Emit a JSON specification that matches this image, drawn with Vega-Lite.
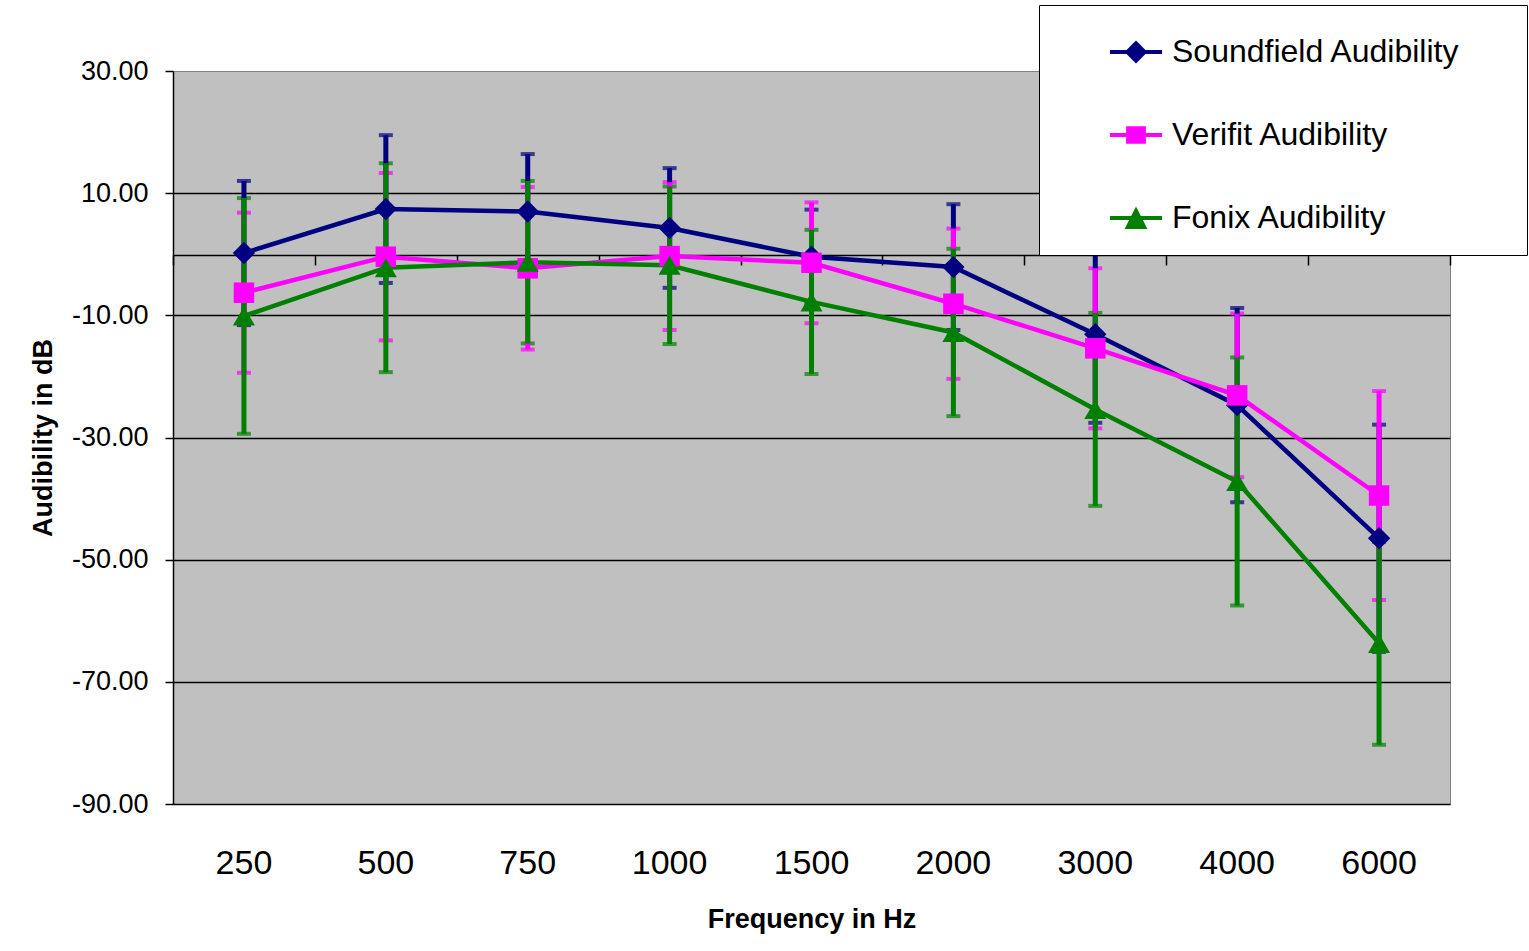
{
  "$schema": "https://vega.github.io/schema/vega-lite/v6.json",
  "width": 1277,
  "height": 733,
  "autosize": {"type": "none"},
  "padding": {"left": 173, "top": 71, "right": 79, "bottom": 147},
  "background": "white",
  "config": {
    "font": "Liberation Sans",
    "view": {"fill": "#C0C0C0", "stroke": "#808080", "strokeWidth": 1},
    "axis": {"labelColor": "black", "titleColor": "black", "labelFont": "Liberation Sans", "titleFont": "Liberation Sans"}
  },
  "data": {
    "values": [
      {"freq": "250", "series": "Soundfield Audibility", "mean": 0.2, "sd": 11.8},
      {"freq": "500", "series": "Soundfield Audibility", "mean": 7.4, "sd": 12.1},
      {"freq": "750", "series": "Soundfield Audibility", "mean": 7.0, "sd": 9.4},
      {"freq": "1000", "series": "Soundfield Audibility", "mean": 4.3, "sd": 9.8},
      {"freq": "1500", "series": "Soundfield Audibility", "mean": -0.4, "sd": 7.7},
      {"freq": "2000", "series": "Soundfield Audibility", "mean": -2.1, "sd": 10.3},
      {"freq": "3000", "series": "Soundfield Audibility", "mean": -13.1, "sd": 14.5},
      {"freq": "4000", "series": "Soundfield Audibility", "mean": -24.7, "sd": 15.9},
      {"freq": "6000", "series": "Soundfield Audibility", "mean": -46.5, "sd": 18.6},
      {"freq": "250", "series": "Verifit Audibility", "mean": -6.3, "sd": 13.1},
      {"freq": "500", "series": "Verifit Audibility", "mean": -0.4, "sd": 13.7},
      {"freq": "750", "series": "Verifit Audibility", "mean": -2.3, "sd": 13.3},
      {"freq": "1000", "series": "Verifit Audibility", "mean": -0.3, "sd": 12.1},
      {"freq": "1500", "series": "Verifit Audibility", "mean": -1.4, "sd": 9.9},
      {"freq": "2000", "series": "Verifit Audibility", "mean": -8.1, "sd": 12.3},
      {"freq": "3000", "series": "Verifit Audibility", "mean": -15.4, "sd": 13.1},
      {"freq": "4000", "series": "Verifit Audibility", "mean": -23.1, "sd": 13.4},
      {"freq": "6000", "series": "Verifit Audibility", "mean": -39.5, "sd": 17.1},
      {"freq": "250", "series": "Fonix Audibility", "mean": -10.1, "sd": 19.3},
      {"freq": "500", "series": "Fonix Audibility", "mean": -2.2, "sd": 17.1},
      {"freq": "750", "series": "Fonix Audibility", "mean": -1.3, "sd": 13.3},
      {"freq": "1000", "series": "Fonix Audibility", "mean": -1.8, "sd": 12.9},
      {"freq": "1500", "series": "Fonix Audibility", "mean": -7.8, "sd": 11.8},
      {"freq": "2000", "series": "Fonix Audibility", "mean": -12.8, "sd": 13.7},
      {"freq": "3000", "series": "Fonix Audibility", "mean": -25.4, "sd": 15.8},
      {"freq": "4000", "series": "Fonix Audibility", "mean": -37.2, "sd": 20.3},
      {"freq": "6000", "series": "Fonix Audibility", "mean": -63.7, "sd": 16.6}
    ]
  },
  "layer": [
    {
      "mark": {"type": "errorbar", "ticks": {"size": 14, "thickness": 4}, "thickness": 5, "rule": {"strokeWidth": 5}},
      "encoding": {
        "x": {
          "field": "freq", "type": "ordinal",
          "sort": ["250", "500", "750", "1000", "1500", "2000", "3000", "4000", "6000"],
          "scale": {"paddingInner": 0, "paddingOuter": 0},
          "axis": {"orient": "bottom", "offset": -549, "domain": true, "domainColor": "black", "domainWidth": 1.5, "ticks": true, "tickBand": "extent", "tickSize": 10, "tickColor": "black", "tickWidth": 1.5, "labels": false, "title": null, "grid": false}
        },
        "y": {
          "field": "mean", "type": "quantitative",
          "scale": {"domain": [-90, 30], "nice": false, "zero": false},
          "axis": {
            "values": [-90, -70, -50, -30, -10, 10, 30],
            "labelExpr": "replace(format(datum.value, '.2f'), '\u2212', '-')",
            "labelFontSize": 27, "labelPadding": 17,
            "tickSize": 8, "tickColor": "black", "tickWidth": 1.5,
            "domainColor": "black", "domainWidth": 1.5,
            "grid": true, "gridColor": "black", "gridWidth": 1.5,
            "gridOpacity": {"condition": {"test": "datum.value === 30", "value": 0}, "value": 1},
            "title": "Audibility in dB", "titleFontSize": 27, "titleFontWeight": "bold", "titlePadding": 14
          }
        },
        "yError": {"field": "sd"},
        "color": {
          "field": "series", "type": "nominal",
          "scale": {"domain": ["Fonix Audibility", "Soundfield Audibility", "Verifit Audibility"], "range": ["#008000", "#000080", "#FF00FF"]},
          "legend": null
        }
      }
    },
    {
      "mark": {"type": "line", "strokeWidth": 4.5},
      "encoding": {
        "x": {
          "field": "freq", "type": "ordinal",
          "sort": ["250", "500", "750", "1000", "1500", "2000", "3000", "4000", "6000"],
          "axis": {"orient": "bottom", "domain": false, "ticks": false, "labelFontSize": 34, "labelPadding": 42, "labelAngle": 0, "title": "Frequency in Hz", "titleFontSize": 27, "titleFontWeight": "bold", "titlePadding": 26, "grid": false}
        },
        "y": {
          "field": "mean", "type": "quantitative",
          "axis": {
            "values": [-90, -70, -50, -30, -10, 10, 30],
            "labelExpr": "replace(format(datum.value, '.2f'), '\u2212', '-')",
            "labelFontSize": 27, "labelPadding": 17,
            "tickSize": 8, "tickColor": "black", "tickWidth": 1.5,
            "domainColor": "black", "domainWidth": 1.5,
            "grid": true, "gridColor": "black", "gridWidth": 1.5,
            "gridOpacity": {"condition": {"test": "datum.value === 30", "value": 0}, "value": 1},
            "title": "Audibility in dB", "titleFontSize": 27, "titleFontWeight": "bold", "titlePadding": 14
          }
        },
        "color": {"field": "series", "type": "nominal", "legend": null}
      }
    },
    {
      "transform": [{"filter": "datum.series === 'Soundfield Audibility'"}],
      "mark": {"type": "point", "shape": "diamond", "filled": true, "size": 500, "opacity": 1},
      "encoding": {
        "x": {"field": "freq", "type": "ordinal", "sort": ["250", "500", "750", "1000", "1500", "2000", "3000", "4000", "6000"], "axis": null},
        "y": {"field": "mean", "type": "quantitative"},
        "color": {"field": "series", "type": "nominal", "legend": null}
      }
    },
    {
      "transform": [{"filter": "datum.series === 'Verifit Audibility'"}],
      "mark": {"type": "point", "shape": "square", "filled": true, "size": 420, "opacity": 1},
      "encoding": {
        "x": {"field": "freq", "type": "ordinal", "sort": ["250", "500", "750", "1000", "1500", "2000", "3000", "4000", "6000"], "axis": null},
        "y": {"field": "mean", "type": "quantitative"},
        "color": {"field": "series", "type": "nominal", "legend": null}
      }
    },
    {
      "transform": [{"filter": "datum.series === 'Fonix Audibility'"}],
      "mark": {"type": "point", "shape": "triangle-up", "filled": true, "size": 484, "opacity": 1},
      "encoding": {
        "x": {"field": "freq", "type": "ordinal", "sort": ["250", "500", "750", "1000", "1500", "2000", "3000", "4000", "6000"], "axis": null},
        "y": {"field": "mean", "type": "quantitative"},
        "color": {"field": "series", "type": "nominal", "legend": null}
      }
    },
    {
      "mark": {"type": "point", "filled": true, "opacity": 0},
      "encoding": {
        "x": {"field": "freq", "type": "ordinal", "sort": ["250", "500", "750", "1000", "1500", "2000", "3000", "4000", "6000"], "axis": null},
        "y": {"field": "mean", "type": "quantitative"},
        "fill": {
          "field": "series", "type": "nominal",
          "scale": {"domain": ["Soundfield Audibility", "Verifit Audibility", "Fonix Audibility"], "range": ["#000080", "#FF00FF", "#008000"]},
          "legend": {
            "orient": "none", "legendX": 866, "legendY": -66,
            "title": "MM", "titleOrient": "right", "titleColor": "white", "titleFontSize": 20, "titlePadding": 12,
            "fillColor": "white", "strokeColor": "black", "padding": 21,
            "symbolOffset": 50, "labelOffset": 10, "rowPadding": 41,
            "symbolSize": 2704, "symbolOpacity": 1, "symbolStrokeWidth": 0,
            "labelFontSize": 32, "labelFont": "Liberation Sans", "labelColor": "black", "labelLimit": 600
          }
        },
        "shape": {
          "field": "series", "type": "nominal",
          "scale": {
            "domain": ["Soundfield Audibility", "Verifit Audibility", "Fonix Audibility"],
            "range": [
              "M-1,-0.08H1V0.08H-1Z M0,-0.44L0.44,0L0,0.44L-0.44,0Z",
              "M-1,-0.08H1V0.08H-1Z M-0.38,-0.34H0.38V0.34H-0.38Z",
              "M-1,-0.08H1V0.08H-1Z M0,-0.44L0.44,0.42H-0.44Z"
            ]
          },
          "legend": {
            "orient": "none", "legendX": 866, "legendY": -66,
            "title": "MM", "titleOrient": "right", "titleColor": "white", "titleFontSize": 20, "titlePadding": 12,
            "fillColor": "white", "strokeColor": "black", "padding": 21,
            "symbolOffset": 50, "labelOffset": 10, "rowPadding": 41,
            "symbolSize": 2704, "symbolOpacity": 1, "symbolStrokeWidth": 0,
            "labelFontSize": 32, "labelFont": "Liberation Sans", "labelColor": "black", "labelLimit": 600
          }
        }
      }
    }
  ],
  "resolve": {"axis": {"x": "independent"}}
}
